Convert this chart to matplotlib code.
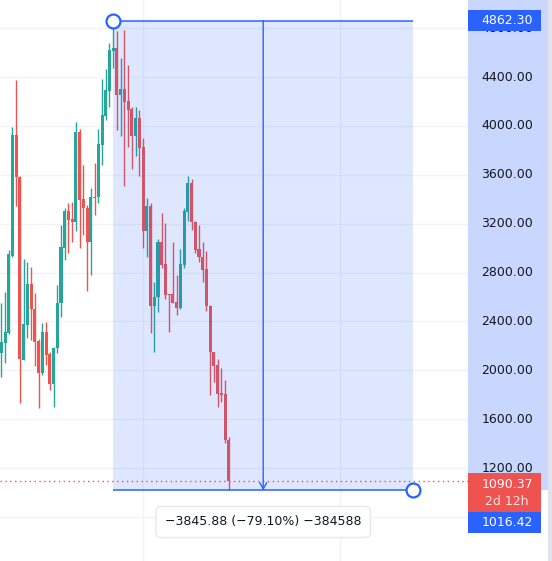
import numpy as np
import matplotlib
matplotlib.use("Agg")
import matplotlib.pyplot as plt
from matplotlib.patches import Rectangle

# candle data (one entry per bar)
opens = [2139, 2227, 2303, 2938, 3925, 3585, 2085, 2371, 2706, 2502,
         2240, 1976, 2311, 2134, 1886, 2180, 2548, 3004, 3304, 3238,
         3216, 3953, 3399, 3331, 3053, 3421, 3415, 3846, 4084, 4288,
         4613, 4637, 4255, 4302, 4206, 4138, 3920, 4067, 3830, 3143,
         3347, 2529, 2597, 3053, 2870, 2626, 2623, 2561, 2509, 2861,
         3297, 3531, 3215, 2992, 2923, 2828, 2528, 2146, 2042, 1813,
         1805, 1432]
highs = [2548, 2644, 2985, 3988, 4375, 3590, 2908, 2886, 2843, 2630,
         2256, 2385, 2398, 2153, 2194, 2698, 3189, 3325, 3372, 3380,
         4034, 3972, 3680, 3353, 3489, 3694, 3977, 4381, 4465, 4675,
         4862.30, 4776, 4553, 4784, 4498, 4152, 4152, 4130, 3898, 3407,
         3366, 2726, 3075, 3290, 3203, 2626, 3051, 2779, 2991, 3327,
         3591, 3564, 3223, 3188, 3051, 2972, 2533, 2152, 2092, 2018,
         1923, 1451]
lows = [1943, 2058, 2297, 2930, 3347, 1730, 2080, 2267, 2248, 2038,
        1695, 1962, 2044, 1839, 1703, 2145, 2439, 2903, 2957, 3053,
        3143, 2998, 3107, 2652, 2780, 3271, 3372, 3680, 4048, 4157,
        4473, 3966, 3920, 3511, 3830, 3647, 3756, 3593, 3004, 2930,
        2303, 2153, 2475, 2835, 2581, 2310, 2550, 2454, 2501, 2839,
        3223, 3150, 2959, 2882, 2719, 2487, 1797, 1906, 1702, 1743,
        1404, 1016.42]
closes = [2235, 2314, 2952, 3925, 3579, 2090, 2379, 2706, 2500, 2235,
          1976, 2311, 2126, 1886, 2180, 2548, 3006, 3304, 3230, 3216,
          3953, 3394, 3326, 3053, 3415, 3413, 3852, 4089, 4294, 4621,
          4637, 4255, 4302, 4198, 4130, 3920, 4067, 3822, 3143, 3347,
          2529, 2603, 3053, 2862, 2616, 2615, 2550, 2509, 2869, 3300,
          3531, 3210, 2986, 2923, 2822, 2522, 2146, 2037, 1805, 1797,
          1432, 1090.37]

grid_prices = [800, 1200, 1600, 2000, 2400, 2800, 3200, 3600, 4000, 4400, 4800]
label_prices = [1200, 1600, 2000, 2400, 2800, 3200, 3600, 4000, 4400, 4800]  # 800 sits under the tag
time_grid = [38, 90.8]          # bar positions of the vertical grid lines

# measure tool
measure_start = 30               # bar of the high
measure_end = 110.4              # right anchor (in bars)
measure_high = 4862.30
measure_low = 1016.42
last_price = 1090.37
measure_text = "\u22123845.88 (\u221279.10%) \u2212384588"
countdown = "2d 12h"

GREEN = "#26a69a"
RED = "#ef5350"
BLUE = "#2962ff"
GRID = "#f0f3fa"
TEXT = "#131722"

W, H = 552, 561
YTOP, YBOT = 5030.2, 438.9
AXIS_X = 468


def px2price(py):
    # pixel row -> price, for placing labels
    return YTOP - py * (YTOP - YBOT) / H


def main():
    fig = plt.figure(figsize=(W / 100, H / 100), dpi=100)
    fig.patch.set_facecolor("white")

    ax = fig.add_axes([0, 0, AXIS_X / W, 1])
    ax.set_xlim(-0.35, 125.1)
    ax.set_ylim(YBOT, YTOP)
    ax.axis("off")

    for p in grid_prices:
        ax.axhline(p, color=GRID, lw=1, zorder=0)
    for t in time_grid:
        ax.axvline(t, color=GRID, lw=1, zorder=0)

    x = np.arange(len(opens))
    o = np.array(opens)
    c = np.array(closes)
    cols = [GREEN if cc >= oo else RED for oo, cc in zip(o, c)]
    ax.vlines(x, lows, highs, colors=cols, lw=1, zorder=2)
    body_lo = np.minimum(o, c)
    body_h = np.maximum(np.abs(c - o), 9)
    ax.bar(x, body_h, bottom=body_lo, width=0.82, color=cols, lw=0, zorder=3)

    # last price dotted line
    ax.axhline(last_price, color=RED, lw=1, ls=(0, (1, 2.5)), zorder=4)

    # measure overlay
    ax.add_patch(Rectangle((measure_start, measure_low), measure_end - measure_start,
                           measure_high - measure_low, facecolor=BLUE, alpha=0.15,
                           lw=0, zorder=5))
    ax.hlines([measure_high, measure_low], measure_start, measure_end, color=BLUE,
              lw=1.1, zorder=6)
    mid = (measure_start + measure_end) / 2
    ax.annotate("", xy=(mid, measure_low), xytext=(mid, measure_high),
                arrowprops=dict(arrowstyle="->,head_length=0.45,head_width=0.25",
                                color=BLUE, lw=1, shrinkA=0, shrinkB=0), zorder=6)
    ax.plot([measure_start, measure_end], [measure_high, measure_low], ls="none",
            marker="o", ms=10, mfc="white", mec=BLUE, mew=1.6, zorder=7, clip_on=False)
    ax.text(mid, px2price(522), measure_text, ha="center", va="center", fontsize=9,
            color=TEXT, zorder=8,
            bbox=dict(boxstyle="round,pad=0.72,rounding_size=0.4", fc="white",
                      ec="#e6e8ee", lw=1))

    # price scale
    ax2 = fig.add_axes([AXIS_X / W, 0, 80 / W, 1])
    ax2.set_xlim(0, 1)
    ax2.set_ylim(YBOT, YTOP)
    ax2.axis("off")
    ax2.axhspan(measure_low, YTOP, color=BLUE, alpha=0.25, lw=0, zorder=0)
    for p in label_prices:
        ax2.text(0.49, p, f"{p:.2f}", ha="center", va="center", fontsize=9,
                 color=TEXT, zorder=1)

    def tag(top_px, bot_px, color):
        y0 = px2price(bot_px)
        ax2.add_patch(Rectangle((0, y0), 0.91, px2price(top_px) - y0, fc=color,
                                lw=0, zorder=2))

    tag(10, 31, BLUE)
    ax2.text(0.49, measure_high, f"{measure_high:.2f}", ha="center", va="center",
             fontsize=9, color="white", zorder=3)
    tag(473, 512, RED)
    ax2.text(0.49, px2price(484), f"{last_price:.2f}", ha="center", va="center",
             fontsize=9, color="white", zorder=3)
    ax2.text(0.49, px2price(501), countdown, ha="center", va="center",
             fontsize=9, color="#fde2e2", zorder=3)
    tag(512, 533, BLUE)
    ax2.text(0.49, px2price(522), f"{measure_low:.2f}", ha="center", va="center",
             fontsize=9, color="white", zorder=3)

    # right edge strip
    fig.patches.append(Rectangle((548 / W, 0), 4 / W, 1, transform=fig.transFigure,
                                 fc="#e0e3eb", lw=0))

    fig.savefig("out.png", dpi=100)


if __name__ == "__main__":
    main()
